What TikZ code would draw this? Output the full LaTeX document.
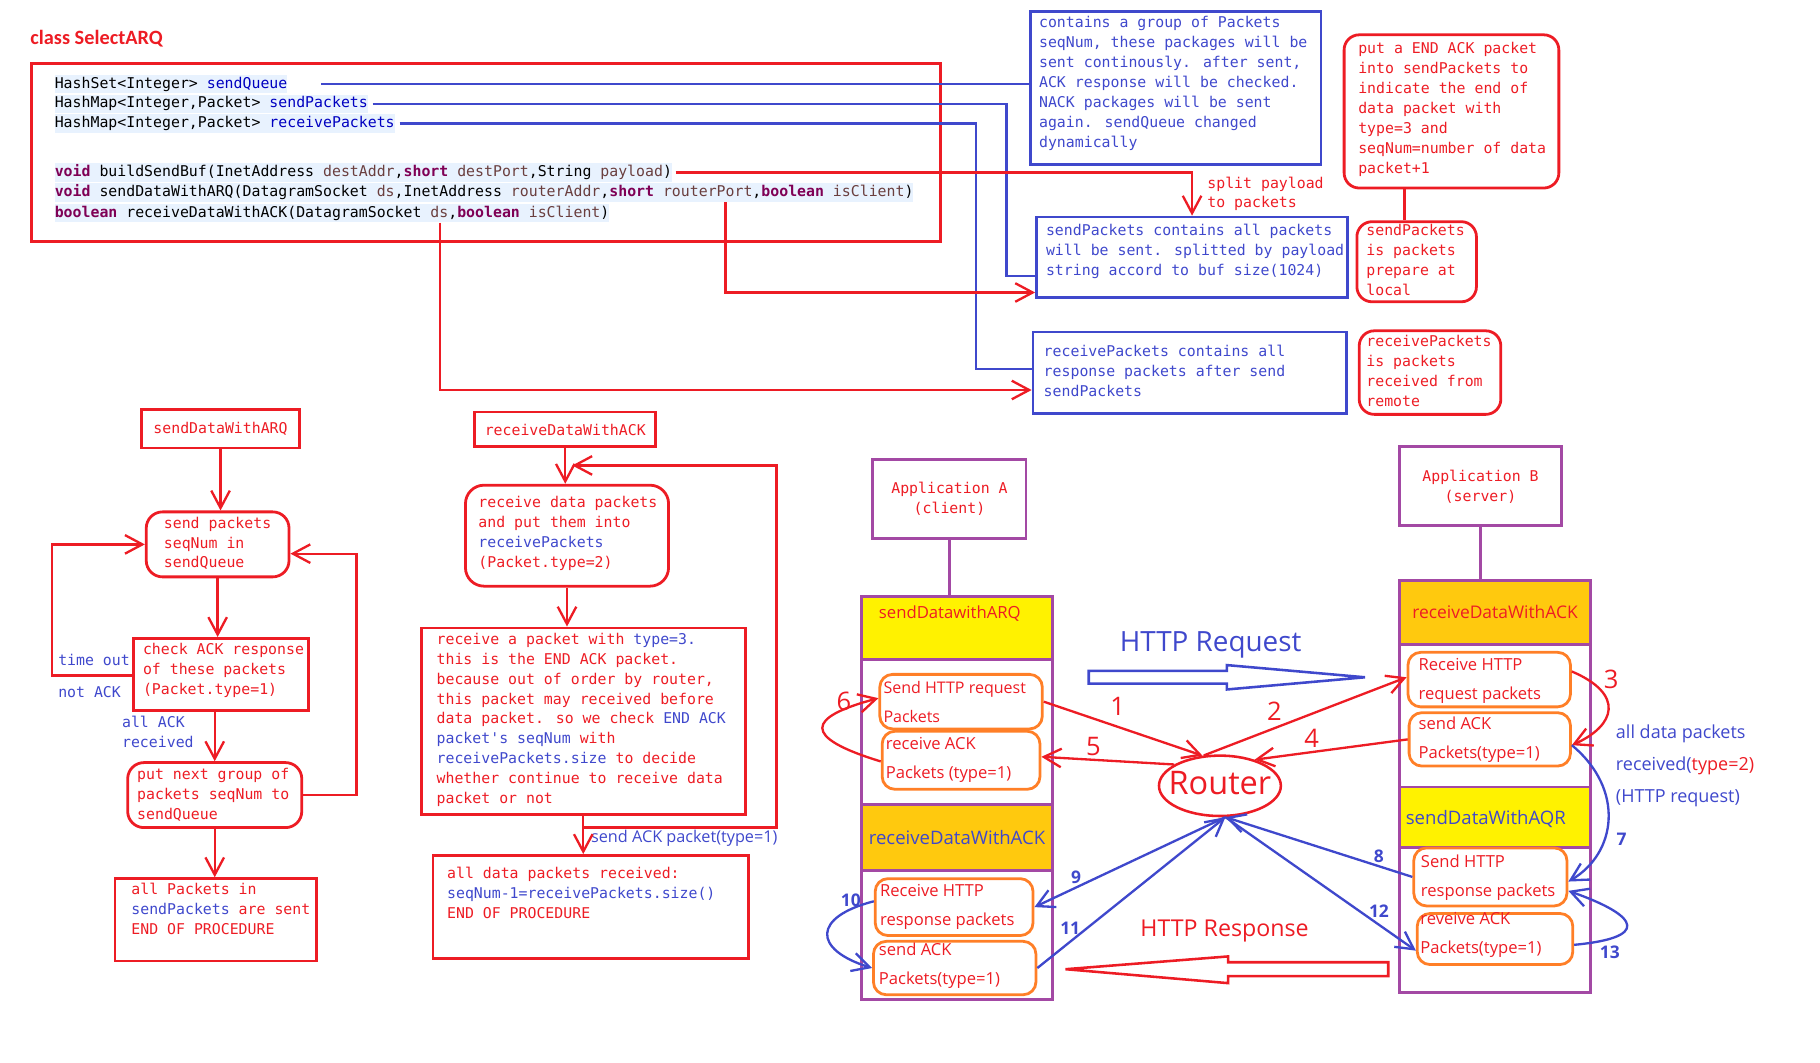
\documentclass[tikz,border=0pt]{standalone}
\usepackage{fontspec}
\usetikzlibrary{arrows.meta,shapes.geometric,positioning}
\newfontfamily\codefont{DejaVu Sans Mono}
\newfontfamily\uifont{Open Sans}
\newfontfamily\titlefont{Carlito}
\definecolor{pred}{HTML}{ED1C24}
\definecolor{pblue}{HTML}{3F48CC}
\definecolor{ppurple}{HTML}{A349A4}
\definecolor{porange}{HTML}{FF7F27}
\definecolor{pyellow}{HTML}{FFF200}
\definecolor{pgold}{HTML}{FFC90E}
\definecolor{codebg}{HTML}{E8F2FE}
\definecolor{kwcol}{HTML}{7F0055}
\definecolor{fldcol}{HTML}{0000C0}
\definecolor{prmcol}{HTML}{6A3E3E}
\newcommand{\kw}[1]{\textcolor{kwcol}{\bfseries #1}}
\newcommand{\fld}[1]{\textcolor{fldcol}{#1}}
\newcommand{\prm}[1]{\textcolor{prmcol}{#1}}
\newcommand{\bl}[1]{\textcolor{pblue}{#1}}
\begin{document}
\begin{tikzpicture}[x=1pt,y=-1pt,
  redbox/.style={draw=pred,line width=2.4pt,inner sep=0pt},
  redround/.style={redbox,rounded corners=13pt},
  bluebox/.style={draw=pblue,line width=2.4pt,inner sep=0pt},
  purplebox/.style={draw=ppurple,line width=2.4pt,inner sep=0pt},
  orbox/.style={draw=porange,line width=2.4pt,rounded corners=11pt,inner sep=0pt},
  cfont/.style={font=\codefont\fontsize{12.8}{17.2}\selectfont},
  mono/.style={cfont,inner sep=0pt,align=left,anchor=north west},
  ui/.style={font=\uifont\fontsize{14.3}{25}\selectfont,inner sep=0pt,align=left,anchor=north west,text=pred},
  codeline/.style={cfont,inner xsep=0pt,inner ysep=1.5pt,fill=codebg,text height=10pt,text depth=3pt,anchor=base west},
  rline/.style={draw=pred,line width=2pt},
  bline/.style={draw=pblue,line width=2pt},
  pline/.style={draw=ppurple,line width=2.4pt},
  barb/.style={-{Straight Barb[length=15pt,width=16pt]}},
  redno/.style={font=\uifont\fontsize{22}{22}\selectfont,text=pred,inner sep=0pt},
  blueno/.style={font=\uifont\bfseries\fontsize{15}{15}\selectfont,text=pblue,inner sep=0pt}]
\useasboundingbox (0,0) rectangle (1568,915);

% class fields and methods
\node[anchor=west,inner sep=0pt,text=pred,font=\titlefont\bfseries\fontsize{17.5}{20}\selectfont] (title) at (26,33) {class SelectARQ};
\node[redbox,minimum width=783,minimum height=153] (cbox) at (418.5,131.5) {};
\node[codeline] (cq) at (47,76) {HashSet<Integer> \fld{sendQueue}};
\node[codeline] (cp) at (47,93) {HashMap<Integer,Packet> \fld{sendPackets}};
\node[codeline] (cr) at (47,110) {HashMap<Integer,Packet> \fld{receivePackets}};
\node[codeline] (cb) at (47,152) {\kw{void} buildSendBuf(InetAddress \prm{destAddr},\kw{short} \prm{destPort},String \prm{payload})};
\node[codeline] (cs) at (47,169.5) {\kw{void} sendDataWithARQ(DatagramSocket \prm{ds},InetAddress \prm{routerAddr},\kw{short} \prm{routerPort},\kw{boolean} \prm{isClient})};
\node[codeline] (cv) at (47,187) {\kw{boolean} receiveDataWithACK(DatagramSocket \prm{ds},\kw{boolean} \prm{isClient})};

\node[bluebox,minimum width=250,minimum height=132] (g1) at (1013,76) {};
\node[mono,text=pblue] (g1t) at (895,14) {contains a group of Packets\\seqNum, these packages will be\\sent continously. after sent,\\ACK response will be checked.\\NACK packages will be sent\\again. sendQueue changed\\dynamically};
\node[bluebox,minimum width=268,minimum height=69] (g2) at (1027,221.5) {};
\node[mono,text=pblue] (g2t) at (901,193) {sendPackets contains all packets\\will be sent. splitted by payload\\string accord to buf size(1024)};
\node[bluebox,minimum width=270,minimum height=70] (g3) at (1025,321) {};
\node[mono,text=pblue] (g3t) at (899,297) {receivePackets contains all\\response packets after send\\sendPackets};

\node[redround,minimum width=185,minimum height=132] (n1) at (1250.5,96) {};
\node[mono,text=pred] (n1t) at (1170,36) {put a END ACK packet\\into sendPackets to\\indicate the end of\\data packet with\\type=3 and\\seqNum=number of data\\packet+1};
\node[redround,minimum width=103,minimum height=69] (n2) at (1220.5,225.5) {};
\node[mono,text=pred] (n2t) at (1177,193) {sendPackets\\is packets\\prepare at\\local};
\node[redround,minimum width=122,minimum height=72] (n3) at (1232,321) {};
\node[mono,text=pred] (n3t) at (1177,289) {receivePackets\\is packets\\received from\\remote};
\node[mono,text=pred] (split) at (1040,152) {split payload\\to packets};

\coordinate (k2) at (867,238);
\coordinate (k3) at (841,318);
\coordinate (k5) at (625,252);
\coordinate (k6) at (379,336);
\coordinate (k7) at (1210,0);
\draw[bline] ([xshift=29pt]cq.east) -- (cq.east -| g1.west);
\draw[bline] ([xshift=4pt]cp.east) -| (k2) -- (k2 -| g2.west);
\draw[bline] ([xshift=4pt]cr.east) -| (k3) -- (k3 -| g3.west);
\draw[rline,barb] ([xshift=3pt]cb.east) -| (g2.north);
\draw[rline,barb] (k5 |- cs.south) -- (k5) -- (k5 -| g2.west);
\draw[rline,barb] (k6 |- cv.south) -- (k6) -- (k6 -| g3.west);
\draw[rline] (k7 |- n1.south) -- (k7 |- n2.north);

% sendDataWithARQ
\node[redbox,cfont,text=pred,minimum width=136,minimum height=33] (f1) at (190,369.5) {sendDataWithARQ};
\node[redround,rounded corners=14pt,minimum width=123,minimum height=56] (f2) at (187.5,469) {};
\node[mono,text=pred] (f2t) at (141,445) {send packets\\seqNum in\\sendQueue};
\node[redbox,minimum width=151,minimum height=62] (f3) at (190.5,581) {};
\node[mono,text=pred] (f3t) at (123,554) {check ACK response\\of these packets\\(Packet.type=1)};
\node[redround,rounded corners=14pt,minimum width=150,minimum height=56] (f4) at (185,685) {};
\node[mono,text=pred] (f4t) at (118,662) {put next group of\\packets seqNum to\\sendQueue};
\node[redbox,minimum width=174,minimum height=71] (f5) at (186,792.5) {};
\node[mono,text=pred] (f5t) at (113,761) {all Packets in\\\bl{sendPackets} are sent\\END OF PROCEDURE};
\node[mono,text=pblue,anchor=base west] (tout) at (50,573) {time out};
\node[mono,text=pblue,anchor=base west] (nack) at (50,601) {not ACK};
\node[mono,text=pblue] (aack) at (105,617) {all ACK\\received};

\coordinate (t1) at (45,582);
\coordinate (t2) at (307,477);
\draw[rline,barb] (f1.south) -- (f1.south |- f2.north);
\draw[rline,barb] (f2.south) -- (f2.south |- f3.north);
\draw[rline,barb] (f3.south -| f4.north) -- (f4.north);
\draw[rline,barb] (f4.south) -- (f4.south |- f5.north);
\draw[rline,barb] (f3.west |- t1) -- (t1) |- (f2.west);
\draw[rline,barb] (f4.east) -| (t2) -- (t2 -| f2.east);

% receiveDataWithACK
\node[redbox,cfont,text=pred,minimum width=156,minimum height=30] (m1) at (487,370) {receiveDataWithACK};
\node[redround,rounded corners=16pt,minimum width=175,minimum height=87] (m2) at (488.5,461.5) {};
\node[mono,text=pred] (m2t) at (412,427) {receive data packets\\and put them into\\\bl{receivePackets}\\(Packet.type=2)};
\node[redbox,minimum width=279,minimum height=161] (m3) at (502.5,621.5) {};
\node[mono,text=pred] (m3t) at (376,545) {receive a packet with \bl{type=3.}\\this is the END ACK packet.\\because out of order by router,\\this packet may received before\\data packet. so we check \bl{END ACK}\\\bl{packet's seqNum} with\\\bl{receivePackets.size} to decide\\whether continue to receive data\\packet or not};
\node[redbox,minimum width=272,minimum height=89] (m4) at (509,781.5) {};
\node[mono,text=pred] (m4t) at (385,747) {all data packets received:\\\bl{seqNum-1=receivePackets.size()}\\END OF PROCEDURE};
\node[anchor=west,inner sep=0pt,text=pblue,font=\uifont\fontsize{14}{14}\selectfont] (sackl) at (509,722) {send ACK packet(type=1)};

\coordinate (t3) at (669,713);
\coordinate (t4) at (669,401);
\coordinate (t5) at (493,401);
\draw[rline,barb] (m1.south) -- (m1.south |- m2.north);
\draw[rline,barb] (m2.south) -- (m2.south |- m3.north);
\draw[rline,barb] (m3.south) -- (m3.south |- m4.north);
\draw[rline,barb] (m3.south |- t3) -- (t3) -- (t4) -- (t5);

% client and server
\node[purplebox,cfont,text=pred,align=center,minimum width=132,minimum height=68] (appA) at (818,430) {Application A\\(client)};
\node[purplebox,cfont,text=pred,align=center,minimum width=139,minimum height=68] (appB) at (1275.5,419) {Application B\\(server)};

\node[purplebox,fill=pyellow,minimum width=165,minimum height=54] (hA1) at (824.5,541) {};
\node[purplebox,minimum width=165,minimum height=125] (sA1) at (824.5,630.5) {};
\node[purplebox,fill=pgold,minimum width=165,minimum height=57,text=pblue,font=\uifont\fontsize{16}{16}\selectfont] (hA2) at (824.5,721.5) {receiveDataWithACK};
\node[purplebox,minimum width=165,minimum height=111] (sA2) at (824.5,805.5) {};
\node[anchor=west,inner sep=0pt,text=pred,font=\uifont\fontsize{14.4}{16}\selectfont] (hA1t) at (757,529) {sendDatawithARQ};

\node[purplebox,fill=pgold,minimum width=164,minimum height=55,text=pred,font=\uifont\fontsize{15}{15}\selectfont] (hB1) at (1288,527.5) {receiveDataWithACK};
\node[purplebox,minimum width=164,minimum height=123] (sB1) at (1288,616.5) {};
\node[purplebox,fill=pyellow,minimum width=164,minimum height=52] (hB2) at (1288,704) {};
\node[purplebox,minimum width=164,minimum height=125] (sB2) at (1288,792.5) {};
\node[anchor=west,inner sep=0pt,text=pblue,font=\uifont\fontsize{16}{16}\selectfont] (hB2t) at (1211,706) {sendDataWithAQR};

\draw[pline] (appA.south) -- (appA.south |- hA1.north);
\draw[pline] (appB.south) -- (appB.south |- hB1.north);

\node[orbox,minimum width=140,minimum height=47] (oA1) at (828,604.5) {};
\node[ui,font=\uifont\fontsize{13.8}{25}\selectfont] (oA1t) at (761,587) {Send HTTP request\\Packets};
\node[orbox,minimum width=136,minimum height=50] (oA2) at (828,655) {};
\node[ui] (oA2t) at (763,635) {receive ACK\\Packets (type=1)};
\node[orbox,minimum width=136,minimum height=49] (oA3) at (822,781.5) {};
\node[ui] (oA3t) at (758,762) {Receive HTTP\\response packets};
\node[orbox,minimum width=140,minimum height=46] (oA4) at (822.5,834) {};
\node[ui] (oA4t) at (757,812) {send ACK\\Packets(type=1)};

\node[orbox,minimum width=140,minimum height=47] (oB1) at (1283,585.5) {};
\node[ui] (oB1t) at (1222,567) {Receive HTTP\\request packets};
\node[orbox,minimum width=139,minimum height=46] (oB2) at (1283.5,637) {};
\node[ui] (oB2t) at (1222,617) {send ACK\\Packets(type=1)};
\node[orbox,minimum width=132,minimum height=50] (oB3) at (1284,755.5) {};
\node[ui] (oB3t) at (1224,736) {Send HTTP\\response packets};
\node[orbox,minimum width=134,minimum height=44] (oB4) at (1288,809) {};
\node[ui] (oB4t) at (1223.5,786) {reveive ACK\\Packets(type=1)};

\node[ui,text=pblue,font=\uifont\fontsize{15.5}{27.5}\selectfont] (note) at (1392,624.5) {all data packets\\received(\textcolor{pred}{type=2)}\\(HTTP request)};

% router and traffic
\node[draw=pred,ellipse,line width=2.2pt,minimum width=105,minimum height=52,inner sep=0pt] (router) at (1051,677) {};
\node[inner sep=0pt,text=pred,font=\uifont\fontsize{28}{28}\selectfont] (routert) at (1051,675) {Router};

\node[inner sep=0pt,text=pblue,font=\uifont\fontsize{24}{24}\selectfont] (req) at (1043,556) {HTTP Request};
\draw[pblue,line width=2.2pt] (938,578) -- (1057,578) -- (1057,573) -- (1176,583.5) -- (1057,594) -- (1057,589) -- (938,589) -- cycle;
\node[inner sep=0pt,text=pred,font=\uifont\fontsize{20}{20}\selectfont] (resp) at (1055,802) {HTTP Response};
\draw[pred,line width=2.2pt] (1196,829) -- (1058,829) -- (1058,824) -- (918,835) -- (1058,847) -- (1058,841) -- (1196,841) -- cycle;

\draw[rline,barb] (oA1.east) -- (router.120);
\draw[rline,barb] (router.118) -- ([yshift=2pt]oB1.west);
\draw[rline,barb] ([yshift=7pt]oB1.east) .. controls (1400,598) and (1392,625) .. ([yshift=-5pt]oB2.east);
\draw[rline,barb] (oB2.west) -- (router.37);
\draw[rline,barb] (router.155) -- ([yshift=3pt]oA2.east);
\draw[rline,barb] ([yshift=-1pt]oA2.west) .. controls (690,635) and (695,618) .. ([yshift=3pt]oA1.west);
\draw[bline,barb] ([yshift=-5pt]oB2.east) .. controls (1400,680) and (1393,735) .. ([yshift=-4pt]oB3.east);
\draw[bline,barb] (oB3.west) -- (router.280);
\draw[bline,barb] (router.280) -- (oA3.east);
\draw[bline,barb] ([yshift=5pt]oA3.west) .. controls (700,790) and (700,818) .. (oA4.west);
\draw[bline,barb] (oA4.east) -- (router.280);
\draw[bline,barb] (router.280) -- ([yshift=-10pt]oB4.west);
\draw[bline,barb] ([yshift=-5pt]oB4.east) .. controls (1420,808) and (1415,790) .. ([yshift=-12pt]oB3.east);

\node[redno] (l1) at (963,609) {1};
\node[redno] (l2) at (1098,613) {2};
\node[redno] (l3) at (1388,585) {3};
\node[redno] (l4) at (1130,636) {4};
\node[redno] (l5) at (942,643) {5};
\node[redno] (l6) at (727,604) {6};
\node[blueno] (l7) at (1397,723) {7};
\node[blueno] (l8) at (1188,738) {8};
\node[blueno] (l9) at (927,756) {9};
\node[blueno] (l10) at (733,776) {10};
\node[blueno] (l11) at (922,800) {11};
\node[blueno] (l12) at (1188,785) {12};
\node[blueno] (l13) at (1387,820) {13};
\end{tikzpicture}
\end{document}
